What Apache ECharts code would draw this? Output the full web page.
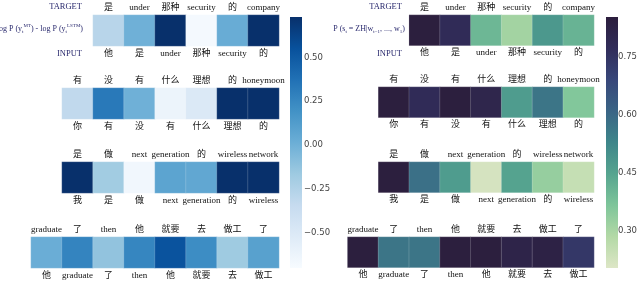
<!DOCTYPE html>
<html>
<head>
<meta charset="utf-8">
<script src="https://cdn.jsdelivr.net/npm/echarts@6/dist/echarts.min.js"></script>
<style>
  html, body { margin: 0; padding: 0; background: #fff; }
  #main { width: 640px; height: 281px; }
</style>
</head>
<body>
<div id="main"></div>
<script>
// tokens above (target) and below (input) each heatmap row
var targets = [
    ['是', 'under', '那种', 'security', '的', 'company'],
    ['有', '没', '有', '什么', '理想', '的', 'honeymoon'],
    ['是', '做', 'next', 'generation', '的', 'wireless', 'network'],
    ['graduate', '了', 'then', '他', '就要', '去', '做工', '了']
];
var inputs = [
    ['他', '是', 'under', '那种', 'security', '的'],
    ['你', '有', '没', '有', '什么', '理想', '的'],
    ['我', '是', '做', 'next', 'generation', '的', 'wireless'],
    ['他', 'graduate', '了', 'then', '他', '就要', '去', '做工']
];
// left: log P(MT) - log P(LSTM)
var diffValues = [
    [-0.28, 0.00, 0.73, -0.68, 0.03, 0.73],
    [-0.32, 0.33, 0.00, -0.62, -0.50, 0.73, 0.73],
    [0.73, -0.18, -0.66, 0.08, 0.06, 0.73, 0.73],
    [0.02, 0.27, -0.12, 0.26, 0.54, 0.22, -0.17, 0.10]
];
// right: P(s_t = ZH | ...)
var zhValues = [
    [0.85, 0.78, 0.40, 0.31, 0.48, 0.41],
    [0.85, 0.78, 0.85, 0.81, 0.47, 0.57, 0.36],
    [0.85, 0.58, 0.47, 0.22, 0.45, 0.33, 0.25],
    [0.85, 0.57, 0.57, 0.85, 0.85, 0.82, 0.83, 0.74]
];
var diffTicks = [-0.5, -0.25, 0, 0.25, 0.5];
var zhTicks = [0.30, 0.45, 0.60, 0.75];

var blues = ['#f7fbff', '#deebf7', '#c6dbef', '#9ecae1', '#6baed6', '#4292c6', '#2171b5', '#08519c', '#08306b'];
var cubehelix = ['#dde6c6', '#b3d9a6', '#7ec59a', '#56a48f', '#3e868a', '#3a6485', '#38477a', '#312d5a', '#2c1e3d'];

var FONT = "'Liberation Serif', 'Noto Sans CJK SC', serif";
var LABEL_COLOR = '#2a2a6e';

var panels = [
    { values: diffValues, rightEdge: 279, cellW: 31, tops: [15, 88, 162, 237], cellH: 31 },
    { values: zhValues, rightEdge: 594, cellW: 30.8, tops: [15, 87, 162, 237], cellH: 30.5 }
];

var grid = [], xAxis = [], yAxis = [], series = [];

panels.forEach(function (p) {
    p.values.forEach(function (row, r) {
        var n = row.length;
        var gi = grid.length;
        grid.push({
            left: p.rightEdge - n * p.cellW,
            top: p.tops[r],
            width: n * p.cellW,
            height: p.cellH
        });
        var bottomIdx = xAxis.length;
        xAxis.push({
            type: 'category', gridIndex: gi, position: 'bottom', data: inputs[r],
            axisLine: { show: false }, axisTick: { show: false }, splitLine: { show: false },
            axisLabel: { interval: 0, margin: 3, fontFamily: FONT, fontSize: 9, color: '#111' }
        });
        xAxis.push({
            type: 'category', gridIndex: gi, position: 'top', data: targets[r],
            axisLine: { show: false }, axisTick: { show: false }, splitLine: { show: false },
            axisLabel: { interval: 0, margin: 3, fontFamily: FONT, fontSize: 9, color: '#111' }
        });
        var yIdx = yAxis.length;
        yAxis.push({ type: 'category', gridIndex: gi, data: ['0'], show: false });
        series.push({
            type: 'heatmap',
            xAxisIndex: bottomIdx,
            yAxisIndex: yIdx,
            data: row.map(function (v, i) { return [i, 0, v]; }),
            itemStyle: { borderColor: 'rgba(255,255,255,0.35)', borderWidth: 0.5 },
            emphasis: { disabled: true }
        });
    });
});

// colorbar tick axes
var CB_TOP = 17, CB_H = 251, CB_W = 12;
function colorbarAxis(left, min, max, ticks, margin) {
    var gi = grid.length;
    grid.push({ left: left, top: CB_TOP, width: CB_W, height: CB_H });
    xAxis.push({ type: 'value', gridIndex: gi, show: false, min: 0, max: 1 });
    yAxis.push({
        type: 'value', gridIndex: gi, position: 'right', min: min, max: max,
        axisLine: { show: false }, axisTick: { show: false }, splitLine: { show: false },
        axisLabel: {
            customValues: ticks, margin: margin, fontSize: 8.5, color: '#444',
            fontFamily: "'DejaVu Sans', sans-serif",
            formatter: function (v) {
                var s = Math.abs(v).toFixed(2);
                return v < 0 ? '\u2212' + s : s;
            }
        }
    });
}
colorbarAxis(290, -0.70, 0.73, diffTicks, 2);
colorbarAxis(606, 0.204, 0.853, zhTicks, 5);

// flat-cornered gradient strip for each colorbar
function colorbarRect(left, colors) {
    var stops = colors.map(function (c, i) {
        return { offset: 1 - i / (colors.length - 1), color: c };
    }).reverse();
    return {
        type: 'rect', left: left, top: CB_TOP, z: 10,
        shape: { width: CB_W, height: CB_H },
        style: { fill: new echarts.graphic.LinearGradient(0, 0, 0, 1, stops) }
    };
}

var myChart = echarts.init(document.getElementById('main'));

var option = {
    animation: false,
    backgroundColor: '#fff',
    grid: grid,
    xAxis: xAxis,
    yAxis: yAxis,
    visualMap: [
        {
            type: 'continuous', show: false, seriesIndex: [0, 1, 2, 3], min: -0.70, max: 0.73,
            inRange: { color: blues }
        },
        {
            type: 'continuous', show: false, seriesIndex: [4, 5, 6, 7], min: 0.204, max: 0.853,
            inRange: { color: cubehelix }
        }
    ],
    graphic: [
        colorbarRect(290, blues),
        colorbarRect(606, cubehelix),
        { type: 'text', x: 82, y: 7, style: { text: 'TARGET', align: 'right', verticalAlign: 'middle', font: '8.5px ' + FONT, fill: LABEL_COLOR } },
        { type: 'text', x: 82, y: 54, style: { text: 'INPUT', align: 'right', verticalAlign: 'middle', font: '8.5px ' + FONT, fill: LABEL_COLOR } },
        { type: 'text', x: 402, y: 7, style: { text: 'TARGET', align: 'right', verticalAlign: 'middle', font: '8.5px ' + FONT, fill: LABEL_COLOR } },
        { type: 'text', x: 402, y: 54, style: { text: 'INPUT', align: 'right', verticalAlign: 'middle', font: '8.5px ' + FONT, fill: LABEL_COLOR } },
        {
            type: 'text', x: 83, y: 29,
            style: {
                text: 'log P (y{s|t}{p|MT}) - log P (y{s|t}{p|LSTM})',
                align: 'right', verticalAlign: 'middle',
                font: '8px ' + FONT, fill: LABEL_COLOR,
                rich: {
                    s: { fontSize: 5, fontFamily: FONT, fill: LABEL_COLOR, verticalAlign: 'bottom', lineHeight: 11 },
                    p: { fontSize: 5, fontFamily: FONT, fill: LABEL_COLOR, verticalAlign: 'top', lineHeight: 11 }
                }
            }
        },
        {
            type: 'text', x: 405, y: 29,
            style: {
                text: 'P (s{s|t} = ZH|w{s|t\u22121}, ..., w{s|1})',
                align: 'right', verticalAlign: 'middle',
                font: '8px ' + FONT, fill: LABEL_COLOR,
                rich: {
                    s: { fontSize: 5, fontFamily: FONT, fill: LABEL_COLOR, verticalAlign: 'bottom', lineHeight: 11 }
                }
            }
        }
    ],
    series: series
};

myChart.setOption(option);
</script>
</body>
</html>
